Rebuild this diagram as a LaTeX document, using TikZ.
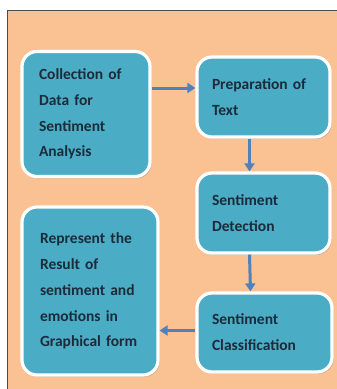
\documentclass[tikz,border=0pt]{standalone}
\usepackage{fontspec}
\setmainfont{Carlito}
\usetikzlibrary{arrows.meta,shadows}
\definecolor{peach}{HTML}{FAC192}
\definecolor{aqua}{HTML}{4BACC6}
\definecolor{arrowblue}{HTML}{4F81BD}
\definecolor{inkblue}{HTML}{1C2B3A}
\tikzset{
  stagebox/.style={rounded corners=15pt, draw=white, line width=3.2pt, fill=aqua,
    drop shadow={shadow xshift=1.5pt, shadow yshift=-1.8pt, fill=black!45},
    text=inkblue, font=\bfseries\fontsize{15.5}{25.8}\selectfont,
    align=left, inner sep=0pt},
  flow/.style={draw=arrowblue, line width=3pt, -{Triangle[length=8pt,width=10pt]}}
}
\begin{document}
\begin{tikzpicture}[x=1pt,y=-1pt]
  \useasboundingbox (0,0) rectangle (337,389);
  \draw[fill=peach, draw=black!70, line width=1pt] (7,10) rectangle (340,392);
  % stages
  \node[stagebox, minimum width=128pt, minimum height=125pt, text width=94pt] (collect) at (86,114)
    {Collection of\\Data for\\Sentiment\\Analysis};
  \node[stagebox, minimum width=133pt, minimum height=80pt, text width=103pt] (prep) at (263.5,97)
    {Preparation of\\Text};
  \node[stagebox, minimum width=133pt, minimum height=80pt, text width=103pt] (detect) at (263.5,213)
    {Sentiment\\Detection};
  \node[stagebox, minimum width=135pt, minimum height=79pt, text width=105pt] (classify) at (264.5,332.5)
    {Sentiment\\Classification};
  \node[stagebox, minimum width=136pt, minimum height=168pt, text width=100pt] (result) at (90,291)
    {Represent the\\Result of\\sentiment and\\emotions in\\Graphical form};
  % connectors
  \draw[flow] ([yshift=9pt]collect.east |- prep.west) -- ([yshift=9pt]prep.west);
  \draw[flow] ([xshift=-14pt]prep.south) -- ([xshift=-14pt]detect.north);
  \draw[flow] ([xshift=-14pt]detect.south) -- ([xshift=-14pt]classify.north);
  \draw[flow] ([yshift=2pt]classify.west) -- ([yshift=2pt]result.east |- classify.west);
\end{tikzpicture}
\end{document}
